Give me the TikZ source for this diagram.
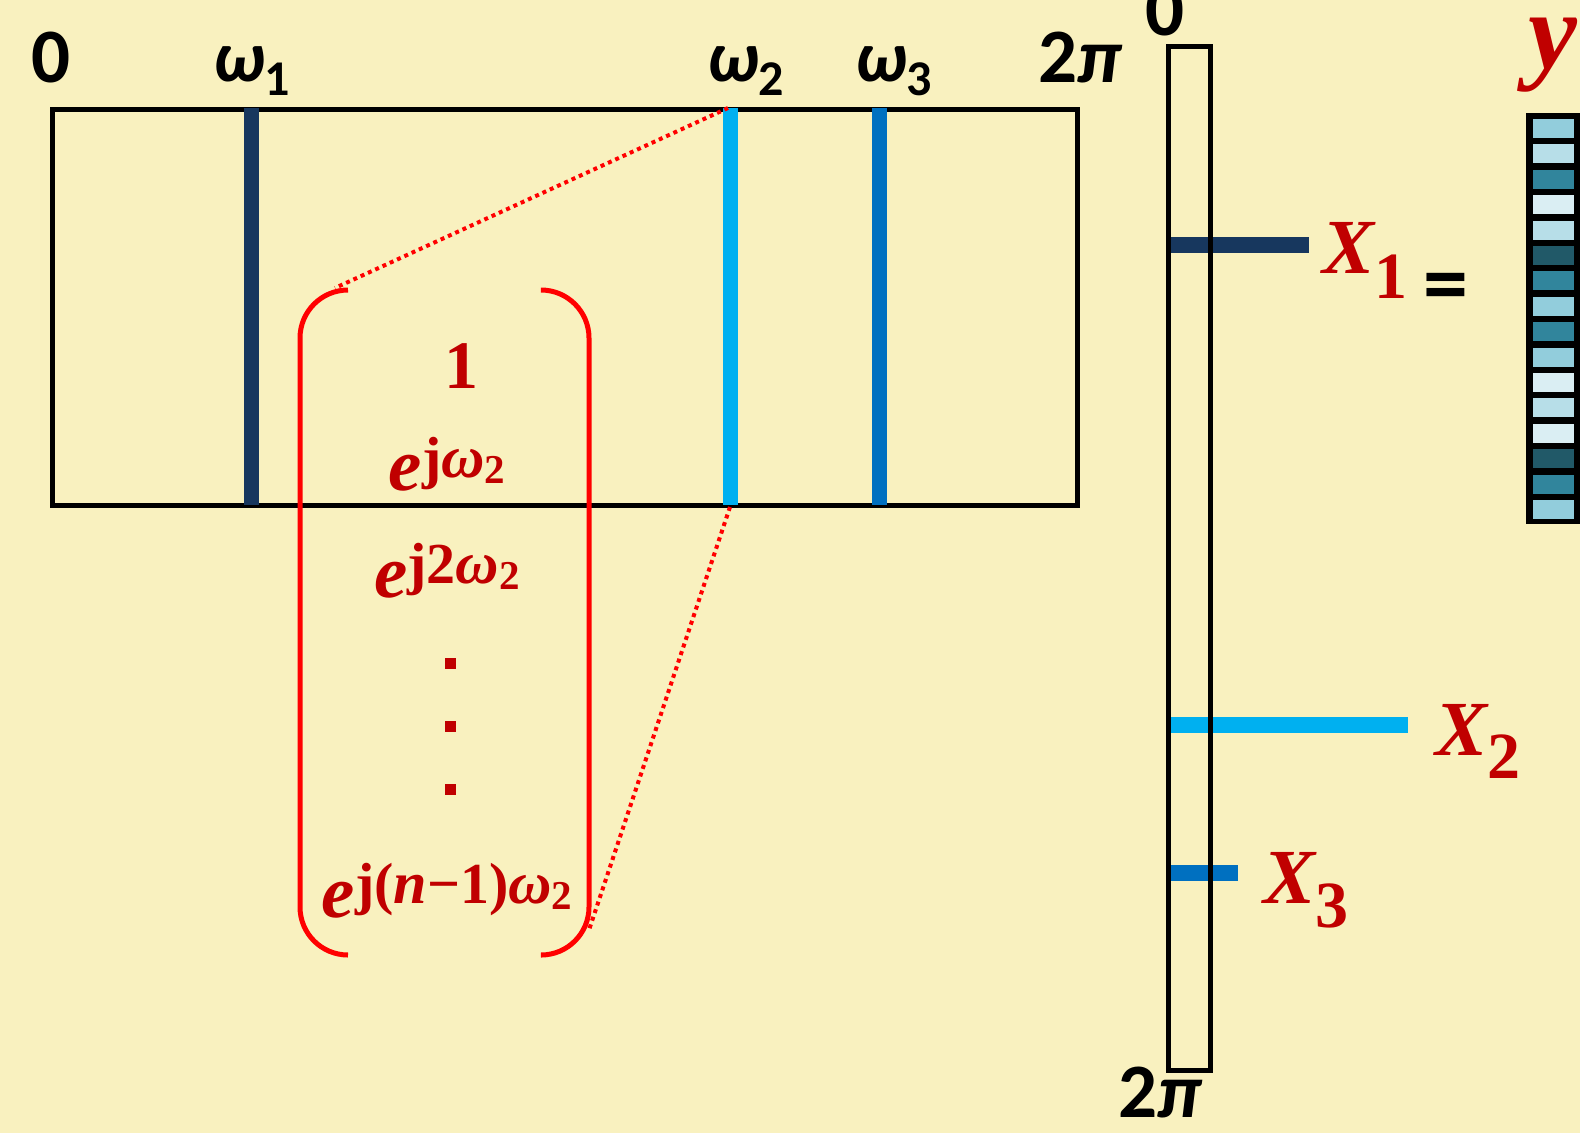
\documentclass[tikz,border=0pt]{standalone}
\usepackage{fontspec}
\setmainfont{Carlito}
\newfontfamily\serifx{Liberation Serif}
\definecolor{bg}{HTML}{F9F1BF}
\definecolor{mred}{HTML}{C00000}
\definecolor{bred}{HTML}{FF0000}
\definecolor{navy}{HTML}{17375E}
\definecolor{cyanl}{HTML}{00B0F0}
\definecolor{bluel}{HTML}{0070C0}
\definecolor{ca}{HTML}{92CDDC}
\definecolor{cb}{HTML}{B7DEE8}
\definecolor{cc}{HTML}{31859C}
\definecolor{cd}{HTML}{DAEEF3}
\definecolor{ce}{HTML}{215968}
\newcommand\Efont{\serifx\bfseries\itshape\fontsize{75}{75}\selectfont}
\newcommand\Supfont{\serifx\bfseries\upshape\fontsize{58}{58}\selectfont}
\newcommand\Wfont{\serifx\bfseries\itshape\fontsize{60}{60}\selectfont}
\newcommand\Subfont{\serifx\bfseries\upshape\fontsize{41}{41}\selectfont}
\newcommand\Topfont{\bfseries\fontsize{77}{77}\selectfont}
\newcommand\Omfont{\bfseries\itshape\fontsize{72}{72}\selectfont}
\newcommand\Osubfont{\bfseries\upshape\fontsize{50}{50}\selectfont}
\newcommand\Xfont{\serifx\bfseries\itshape\fontsize{78}{78}\selectfont}
\newcommand\Xsubfont{\serifx\upshape\fontsize{66}{66}\selectfont}
\tikzset{
  lbl/.style={inner sep=0pt, outer sep=0pt, anchor=base west, text=black},
  clbl/.style={inner sep=0pt, outer sep=0pt, anchor=base, text=black},
  mtx/.style={inner sep=0pt, outer sep=0pt, anchor=base, text=mred},
  xlbl/.style={inner sep=0pt, outer sep=0pt, anchor=base west, text=mred},
  freqline/.style={line width=15pt},
  bar/.style={line width=16pt},
  frame/.style={line width=5pt, draw=black},
  brack/.style={draw=bred, line width=5pt, rounded corners=48pt},
  dotline/.style={draw=bred, line width=4pt, dash pattern=on 4pt off 4pt},
  dotsq/.style={fill=mred},
}
\begin{document}
\begin{tikzpicture}[x=1pt,y=-1pt]
\fill[bg] (0,0) rectangle (1580,1133);
\useasboundingbox (0,0) rectangle (1580,1133);
% main frequency box
\draw[frame] (52,109) rectangle (1077,505);
\draw[freqline, navy] (251,108) -- (251,505);
\draw[freqline, cyanl] (730,108) -- (730,505);
\draw[freqline, bluel] (879,108) -- (879,505);
\coordinate (w2top) at (728,108);
\coordinate (w2bot) at (730,507);
% top labels
\node[clbl] (l0) at (51,82) {\Topfont 0};
\node[lbl] (lw1) at (213,81) {\Omfont ω\raisebox{-14pt}{\Osubfont 1}};
\node[lbl] (lw2) at (707,81) {\Omfont ω\raisebox{-14pt}{\Osubfont 2}};
\node[lbl] (lw3) at (855,81) {\Omfont ω\raisebox{-14pt}{\Osubfont 3}};
\node[lbl] (l2pi) at (1038,82) {\Topfont 2{\itshape π}};
% bracket
\draw[brack] (348,290) -- (300,290) -- (300,955) -- (348,955);
\draw[brack] (542,290) -- (589,290) -- (589,955) -- (542,955);
\coordinate (brTL) at (335,288);
\coordinate (brBR) at (589,930);
\draw[dotline] (w2top) -- (brTL);
\draw[dotline] (w2bot) -- (brBR);
% matrix entries
\node[mtx] (m1) at (461,388) {\serifx\bfseries\fontsize{68}{68}\selectfont 1};
\node[mtx] (m2) at (447,490) {\Efont e\raisebox{13pt}{\Supfont j\Wfont ω\raisebox{-6pt}{\Subfont 2}}};
\node[mtx] (m3) at (447,597) {\Efont e\raisebox{14pt}{\Supfont j2\Wfont ω\raisebox{-6pt}{\Subfont 2}}};
\fill[dotsq] (444.5,657.5) rectangle ++(11,11);
\fill[dotsq] (444.5,720.5) rectangle ++(11,11);
\fill[dotsq] (444.5,783.5) rectangle ++(11,11);
\node[mtx] (m4) at (447,917) {\Efont e\raisebox{14pt}{\Supfont j(\Wfont n\Supfont −1)\Wfont ω\raisebox{-6pt}{\Subfont 2}}};
% vertical spectrum column
\draw[bar, navy] (1170,245) -- (1309,245);
\draw[bar, cyanl] (1170,725) -- (1408,725);
\draw[bar, bluel] (1170,873) -- (1238,873);
\draw[frame] (1168,46) rectangle (1210,1070);
\node[clbl] (c0) at (1165,35) {\Topfont 0};
\node[lbl] (c2pi) at (1118,1117) {\Topfont 2{\itshape π}};
% X labels
\node[xlbl] (x1) at (1322,273) {\Xfont X\raisebox{-25pt}{\Xsubfont 1}};
\node[xlbl] (x2) at (1435,755) {\Xfont X\raisebox{-23pt}{\Xsubfont 2}};
\node[xlbl] (x3) at (1263,903) {\Xfont X\raisebox{-24pt}{\Xsubfont 3}};
\node[inner sep=0pt, anchor=center, text=black] (eq) at (1446,293) {\bfseries\fontsize{90}{90}\selectfont =};
% y vector
\node[xlbl] (yl) at (1528,68) {\serifx\bfseries\itshape\fontsize{110}{110}\selectfont y};
\fill[black] (1526,113) rectangle (1584,524);
\foreach \c [count=\i from 0] in {ca,cb,cc,cd,cb,ce,cc,ca,cc,ca,cd,cb,cd,ce,cc,ca}
  \fill[\c] (1533,{119+\i*25.4}) rectangle (1574,{138+\i*25.4});
\end{tikzpicture}
\end{document}
